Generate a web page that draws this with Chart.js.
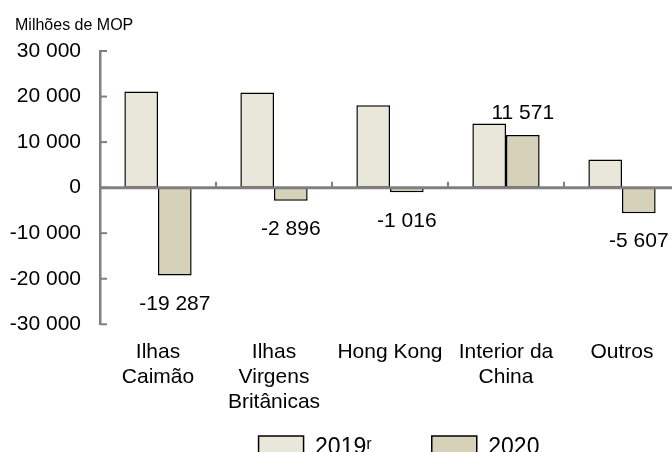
<!DOCTYPE html>
<html lang="pt">
<head>
<meta charset="utf-8">
<script src="https://cdn.jsdelivr.net/npm/chart.js@4.4.1/dist/chart.umd.min.js"></script>
<style>
  html, body { margin: 0; padding: 0; background: #fff; overflow: hidden; }
  #caixa { width: 680px; height: 523px; }
</style>
</head>
<body>
<div id="caixa"><canvas id="grafico"></canvas></div>
<script>
// DADOS
const categorias = [["Ilhas", "Caimão"], ["Ilhas", "Virgens", "Britânicas"], "Hong Kong", ["Interior da", "China"], "Outros"];
const series = ["2019ʳ", "2020"];
const valores2019 = [21100, 20900, 18100, 14100, 6200];
const valores2020 = [-19287, -2896, -1016, 11571, -5607];
const limitesY = [-30000, 30000];
const unidade = "Milhões de MOP";

const cinza = "#808080";
const fonte = "'Liberation Sans', Arial, sans-serif";

// FORMATAR NUMERO "30 000"
function formatarNumero(v) {
  const s = Math.abs(Math.round(v)).toString().replace(/\B(?=(\d{3})+(?!\d))/g, " ");
  return (v < 0 ? "-" : "") + s;
}

// LINHA DO ZERO + MARCAS + ROTULOS
const eixosExtra = {
  id: "eixosExtra",
  afterLayout(chart) {
    // legenda mais perto do eixo, como no original
    const legenda = chart.legend;
    const pad = legenda.options.labels.padding;
    legenda.top = 436 - pad;
    legenda.left += 9;
    legenda.right += 9;
  },
  afterDatasetsDraw(chart) {
    const ctx = chart.ctx;
    const x = chart.scales.x;
    const y = chart.scales.y;
    const area = chart.chartArea;
    const y0 = y.getPixelForValue(0);

    ctx.save();
    ctx.strokeStyle = cinza;

    // marcas do eixo Y (para dentro)
    ctx.lineWidth = 2;
    y.ticks.forEach(t => {
      const py = y.getPixelForValue(t.value);
      ctx.beginPath();
      ctx.moveTo(area.left, py);
      ctx.lineTo(area.left + 7, py);
      ctx.stroke();
    });

    // linha do zero
    ctx.lineWidth = 3;
    ctx.beginPath();
    ctx.moveTo(area.left, y0);
    ctx.lineTo(area.right, y0);
    ctx.stroke();

    // marcas entre categorias
    ctx.lineWidth = 2;
    for (let i = 0; i < categorias.length - 1; i++) {
      const px = (x.getPixelForTick(i) + x.getPixelForTick(i + 1)) / 2;
      ctx.beginPath();
      ctx.moveTo(px, y0);
      ctx.lineTo(px, y0 - 6);
      ctx.stroke();
    }

    // rotulos da serie 2020
    ctx.fillStyle = "#000";
    ctx.font = "21px " + fonte;
    ctx.textAlign = "center";
    ctx.textBaseline = "middle";
    chart.getDatasetMeta(1).data.forEach((barra, i) => {
      const v = valores2020[i];
      const py = v < 0 ? barra.y + 28.5 : barra.y - 22;
      ctx.fillText(formatarNumero(v), barra.x, py);
    });

    // unidade no canto
    ctx.textAlign = "left";
    ctx.textBaseline = "alphabetic";
    ctx.font = "16px " + fonte;
    ctx.fillText(unidade, 15, 30);
    ctx.restore();
  }
};

// GRAFICO
const ctx = document.getElementById("grafico");

new Chart(ctx, {
  type: "bar",
  data: {
    labels: categorias,
    datasets: [
      {
        label: series[0],
        data: valores2019,
        backgroundColor: "#e9e7da",
        borderColor: "#000",
        borderWidth: 1.5,
        borderSkipped: false
      },
      {
        label: series[1],
        data: valores2020,
        backgroundColor: "#d6d1b9",
        borderColor: "#000",
        borderWidth: 1.5,
        borderSkipped: false
      }
    ]
  },
  options: {
    responsive: true,
    maintainAspectRatio: false,
    animation: false,
    devicePixelRatio: 1,
    categoryPercentage: 0.58,
    barPercentage: 1,
    layout: { padding: { left: 0, right: 0, top: 51, bottom: 0 } },
    scales: {
      x: {
        grid: { display: false, drawTicks: false },
        border: { display: false },
        ticks: {
          color: "#000",
          font: { family: fonte, size: 21, lineHeight: 1.17 },
          padding: 16,
          maxRotation: 0,
          autoSkip: false
        }
      },
      y: {
        min: limitesY[0],
        max: limitesY[1],
        afterFit(scale) { scale.width = 100; },
        grid: { display: false, drawTicks: false },
        border: { display: true, color: cinza, width: 2.5 },
        ticks: {
          stepSize: 10000,
          color: "#000",
          padding: 19,
          font: { family: fonte, size: 21 },
          callback: v => formatarNumero(v)
        }
      }
    },
    plugins: {
      legend: {
        position: "bottom",
        fullSize: false,
        labels: {
          color: "#000",
          font: { family: fonte, size: 23 },
          boxWidth: 45,
          boxHeight: 23,
          padding: 60
        }
      },
      tooltip: { enabled: false }
    }
  },
  plugins: [eixosExtra]
});
</script>
</body>
</html>
